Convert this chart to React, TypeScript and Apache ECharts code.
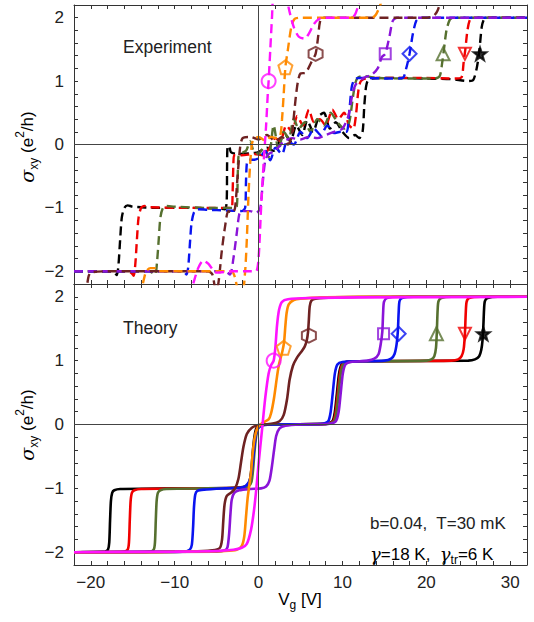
import React, { useEffect, useRef } from "react";
import * as echarts from "echarts";

// ---------- axes ----------
const X_MIN = -22;
const X_MAX = 32;
const Y_MIN = -2.2;
const Y_MAX = 2.2;
const xTickValues = [-22, -20, -18, -16, -14, -12, -10, -8, -6, -4, -2, 0, 2, 4, 6, 8, 10, 12, 14, 16, 18, 20, 22, 24, 26, 28, 30, 32];
const xLabelValues = [-20, -10, 0, 10, 20, 30];
const yTickValues = [-2.2, -2, -1.8, -1.6, -1.4, -1.2, -1, -0.8, -0.6, -0.4, -0.2, 0, 0.2, 0.4, 0.6, 0.8, 1, 1.2, 1.4, 1.6, 1.8, 2, 2.2];
const yLabelValues = [-2, -1, 0, 1, 2];

// ---------- series names / colours ----------
const names = ["black", "red", "green", "blue", "purple", "brown", "orange", "magenta"];
const colors = ["#000000", "#f00000", "#56702f", "#0a14f0", "#8a14d8", "#6e2222", "#ff8a00", "#ff12ff"];

// ---------- Experiment (top panel) ----------
const expBlack = [[-22, -2.0], [-18, -2.0], [-17.2, -2.02], [-16.9, -2.06], [-16.7, -1.9], [-16.5, -1.5], [-16.3, -1.15], [-16.0, -1.0], [-15.6, -0.96], [-15, -0.98], [-12, -1.0], [-8, -1.0], [-5, -1.01], [-4, -1.02], [-3.8, -0.9], [-3.75, -0.3], [-3.7, -0.05], [-3.5, -0.02], [-3.3, -0.12], [-2.5, -0.15], [-1, -0.14], [0, -0.12], [1, -0.05], [1.8, -0.1], [2.5, 0.05], [3.2, 0.15], [3.8, 0.05], [4.5, 0.3], [5.2, 0.15], [5.8, 0.38], [6.5, 0.2], [7.2, 0.45], [7.8, 0.5], [8.5, 0.25], [9.2, 0.35], [10, 0.2], [10.8, 0.1], [11.5, 0.15], [12, 0.1], [12.4, 0.2], [12.6, 0.6], [12.8, 0.9], [13.0, 1.0], [13.5, 1.04], [16, 1.05], [20, 1.04], [23, 1.03], [25, 1.0], [25.6, 1.02], [26.0, 1.2], [26.3, 1.45], [26.6, 1.85], [26.9, 1.98], [27.5, 2.0], [32, 2.0]];
const expRed = [[-22, -2.0], [-16, -2.0], [-15.2, -2.02], [-14.9, -2.07], [-14.7, -1.9], [-14.5, -1.5], [-14.3, -1.15], [-14.0, -1.0], [-13.6, -0.97], [-13, -0.99], [-8, -1.0], [-4, -1.0], [-3.2, -1.0], [-3.1, -0.8], [-3.0, -0.3], [-2.9, -0.17], [-2, -0.17], [-0.5, -0.15], [0.5, -0.17], [1.3, -0.05], [2, 0.1], [2.6, 0.05], [3.3, 0.3], [4.0, 0.2], [4.6, 0.45], [5.3, 0.3], [6, 0.55], [6.6, 0.35], [7.3, 0.4], [8, 0.3], [8.8, 0.55], [9.5, 0.4], [10.2, 0.5], [10.8, 0.3], [11.3, 0.25], [11.6, 0.45], [11.9, 0.85], [12.2, 1.0], [13, 1.05], [16, 1.05], [20, 1.05], [23.5, 1.04], [24.2, 1.06], [24.45, 1.3], [24.65, 1.5], [24.9, 1.8], [25.2, 1.97], [25.6, 2.0], [32, 2.0]];
const expGreen = [[-22, -2.0], [-13, -2.0], [-12.6, -2.03], [-12.3, -2.05], [-12.1, -1.85], [-11.9, -1.5], [-11.7, -1.15], [-11.4, -1.0], [-11, -0.97], [-10, -0.98], [-6, -1.0], [-3, -1.0], [-2.6, -0.98], [-2.5, -0.6], [-2.4, -0.2], [-2.2, -0.15], [-1.5, -0.1], [-1, 0.05], [-0.6, -0.1], [0, -0.15], [0.6, -0.05], [1.2, -0.2], [1.8, 0.3], [2.4, -0.1], [3, 0.2], [3.6, 0.1], [4.2, 0.4], [4.8, 0.25], [5.5, 0.35], [6.2, 0.2], [7, 0.4], [7.8, 0.3], [8.6, 0.5], [9.4, 0.35], [10.2, 0.25], [10.8, 0.35], [11.2, 0.7], [11.5, 0.95], [11.8, 1.05], [12.5, 1.08], [14, 1.05], [18, 1.04], [21, 1.04], [21.6, 1.08], [21.9, 1.3], [22.1, 1.5], [22.4, 1.8], [22.8, 1.97], [23.2, 2.0], [32, 2.0]];
const expBlue = [[-22, -2.0], [-9, -2.0], [-8.6, -2.05], [-8.4, -1.95], [-8.2, -1.6], [-8.0, -1.25], [-7.7, -1.07], [-7.3, -1.02], [-6, -1.03], [-4, -1.04], [-2, -1.05], [-1.6, -1.0], [-1.5, -0.6], [-1.4, -0.3], [-1.2, -0.24], [-0.5, -0.24], [0.2, -0.2], [0.8, -0.1], [1.4, -0.25], [2, -0.05], [2.8, -0.15], [3.4, 0.05], [4.2, 0.0], [5, 0.2], [5.8, 0.1], [6.6, 0.25], [7.4, 0.15], [8.2, 0.3], [9, 0.18], [9.8, 0.2], [10.5, 0.2], [10.8, 0.5], [11.1, 0.9], [11.4, 1.02], [12, 1.05], [16, 1.04], [17.2, 1.05], [17.6, 1.2], [18, 1.43], [18.4, 1.75], [18.8, 1.95], [19.3, 2.0], [32, 2.0]];
const expPurple = [[-22, -2.0], [-4, -2.0], [-3.4, -2.05], [-3.0, -1.8], [-2.6, -1.4], [-2.3, -1.1], [-2.0, -1.05], [-1, -1.05], [-0.3, -1.08], [0.2, -1.0], [0.5, -0.6], [0.8, -0.25], [1.2, -0.15], [2, -0.1], [3, 0.05], [4, 0.1], [5, 0.08], [6, 0.12], [7, 0.1], [8, 0.15], [9, 0.2], [10, 0.25], [10.7, 0.45], [11.2, 0.8], [11.6, 0.95], [12.5, 1.05], [13.5, 1.1], [14.2, 1.2], [14.7, 1.38], [15.1, 1.43], [15.6, 1.7], [16, 1.95], [16.5, 2.0], [32, 2.0]];
const expBrown = [[-20.6, -2.4], [-20.3, -2.1], [-20, -2.02], [-18, -2.0], [-10, -2.0], [-6, -2.0], [-5.5, -2.05], [-5.1, -2.3], [-4.8, -2.2], [-4.4, -1.7], [-4.0, -1.3], [-3.6, -1.05], [-3.1, -1.08], [-2.8, -1.0], [-2.5, -0.5], [-2.2, -0.05], [-1.9, 0.1], [-1, 0.12], [0, 0.08], [1, 0.15], [2, 0.05], [2.8, 0.12], [3.5, 0.0], [3.9, 0.1], [4.1, 0.3], [4.4, 0.7], [4.7, 1.0], [5.0, 1.12], [5.6, 1.13], [6.3, 1.3], [6.8, 1.43], [7.1, 1.7], [7.3, 1.92], [7.6, 2.0], [20, 2.0], [20.8, 2.02], [21.3, 2.1], [21.8, 2.3]];
const expOrange = [[-14.2, -2.4], [-13.8, -2.2], [-13.4, -2.0], [-12.9, -1.95], [-12.4, -1.95], [-12.0, -2.0], [-8, -2.0], [-4, -2.0], [-3.2, -2.0], [-2.8, -2.1], [-2.4, -2.3], [-1.9, -2.3], [-1.6, -2.0], [-1.4, -1.5], [-1.2, -0.8], [-1.0, -0.3], [-0.8, 0.0], [-0.6, 0.08], [0, 0.12], [0.8, 0.06], [1.5, 0.12], [2.2, 0.1], [2.6, 0.15], [2.8, 0.4], [3.0, 0.8], [3.2, 1.22], [3.5, 1.5], [3.9, 1.85], [4.3, 1.98], [5, 2.0], [13.5, 2.0], [14.0, 2.05], [14.5, 2.2], [15.0, 2.4]];
const expMagenta = [[-8.3, -2.4], [-7.8, -2.2], [-7.2, -1.95], [-6.6, -1.83], [-6.0, -1.88], [-5.4, -1.98], [-5, -2.02], [-3, -2.0], [-1, -2.0], [-0.3, -2.0], [0.0, -1.8], [0.3, -1.0], [0.6, -0.3], [0.9, 0.3], [1.1, 0.8], [1.2, 1.0], [1.4, 1.5], [1.6, 2.0], [1.8, 2.4], [2.5, 2.6], [3.3, 2.4], [3.6, 2.15], [4.2, 1.85], [4.8, 1.7], [5.5, 1.67], [6.0, 1.75], [6.6, 1.9], [7.2, 1.98], [8, 2.0], [11, 2.0], [11.5, 2.05], [11.9, 2.2], [12.3, 2.4]];

// ---------- Theory (bottom panel) ----------
const thBlack = [[-22, -2], [-18.3, -1.99], [-17.95, -1.96], [-17.8, -1.85], [-17.7, -1.5], [-17.6, -1.2], [-17.45, -1.07], [-17.2, -1.03], [-16.5, -1.01], [-10, -1.0], [-3, -0.99], [-1.6, -0.97], [-1.1, -0.9], [-0.85, -0.7], [-0.7, -0.45], [-0.5, -0.2], [-0.3, -0.07], [0, -0.02], [1, 0], [8, 0.01], [8.8, 0.05], [9.1, 0.2], [9.35, 0.5], [9.6, 0.8], [9.9, 0.94], [10.5, 0.98], [13, 0.99], [25, 1.0], [25.8, 1.02], [26.3, 1.07], [26.55, 1.17], [26.7, 1.32], [26.8, 1.55], [26.88, 1.8], [26.98, 1.93], [27.3, 1.98], [28.5, 2.0], [32, 2.0]];
const thRed = [[-22, -2], [-16, -1.99], [-15.6, -1.96], [-15.45, -1.85], [-15.35, -1.5], [-15.25, -1.2], [-15.1, -1.07], [-14.8, -1.03], [-14, -1.01], [-8, -1.0], [-2.5, -0.99], [-1.4, -0.97], [-0.95, -0.9], [-0.75, -0.7], [-0.6, -0.45], [-0.4, -0.2], [-0.2, -0.07], [0.1, -0.02], [1, 0], [8, 0.01], [8.9, 0.05], [9.2, 0.2], [9.45, 0.5], [9.7, 0.8], [10, 0.94], [10.6, 0.98], [13, 0.99], [23, 1.0], [23.8, 1.02], [24.2, 1.07], [24.45, 1.18], [24.6, 1.42], [24.7, 1.75], [24.8, 1.92], [25.1, 1.98], [26.5, 2.0], [32, 2.0]];
const thGreen = [[-22, -2], [-13, -1.99], [-12.5, -1.96], [-12.35, -1.85], [-12.25, -1.5], [-12.15, -1.2], [-12.0, -1.07], [-11.7, -1.03], [-11, -1.01], [-6, -1.0], [-2, -0.99], [-1.2, -0.97], [-0.85, -0.9], [-0.65, -0.7], [-0.5, -0.45], [-0.3, -0.2], [-0.1, -0.07], [0.2, -0.02], [1, 0], [8, 0.01], [9.0, 0.05], [9.3, 0.2], [9.55, 0.5], [9.8, 0.8], [10.1, 0.94], [10.7, 0.98], [13, 0.99], [20, 1.0], [20.6, 1.02], [20.95, 1.07], [21.15, 1.2], [21.25, 1.45], [21.35, 1.8], [21.45, 1.93], [21.8, 1.98], [23, 2.0], [32, 2.0]];
const thBlue = [[-22, -2], [-9, -1.99], [-8.2, -1.96], [-7.95, -1.88], [-7.8, -1.6], [-7.7, -1.3], [-7.55, -1.1], [-7.3, -1.04], [-6.5, -1.02], [-4, -1.0], [-2.2, -0.99], [-1.5, -0.96], [-1.0, -0.85], [-0.7, -0.6], [-0.5, -0.35], [-0.3, -0.15], [0, -0.05], [0.6, -0.01], [2, 0], [7.6, 0.01], [8.3, 0.05], [8.6, 0.2], [8.85, 0.5], [9.1, 0.8], [9.4, 0.94], [10, 0.98], [12, 0.99], [15, 1.0], [15.8, 1.03], [16.2, 1.1], [16.45, 1.25], [16.6, 1.45], [16.7, 1.75], [16.8, 1.93], [17.1, 1.98], [18.5, 2.0], [32, 2.0]];
const thPurple = [[-22, -2], [-5, -1.99], [-4, -1.97], [-3.7, -1.92], [-3.5, -1.7], [-3.35, -1.4], [-3.2, -1.18], [-2.9, -1.07], [-2.3, -1.03], [-1, -1.01], [0.3, -1.0], [0.9, -0.97], [1.3, -0.88], [1.6, -0.65], [1.85, -0.4], [2.1, -0.18], [2.5, -0.06], [3.2, -0.02], [5, 0], [8.3, 0.01], [9.2, 0.05], [9.55, 0.2], [9.8, 0.5], [10.05, 0.8], [10.35, 0.94], [11, 0.98], [13, 1.0], [13.8, 1.03], [14.3, 1.1], [14.55, 1.25], [14.75, 1.45], [14.85, 1.75], [14.95, 1.92], [15.3, 1.98], [17, 2.0], [32, 2.0]];
const thBrown = [[-22, -2], [-8, -1.99], [-5.5, -1.97], [-4.6, -1.93], [-4.35, -1.8], [-4.2, -1.5], [-4.05, -1.25], [-3.8, -1.12], [-3.3, -1.07], [-2.8, -1.0], [-2.4, -0.85], [-2.1, -0.6], [-1.8, -0.35], [-1.4, -0.15], [-0.8, -0.05], [0, -0.01], [1.5, 0.01], [2.5, 0.05], [3.0, 0.15], [3.4, 0.4], [3.7, 0.7], [4.1, 0.92], [4.6, 1.05], [5.1, 1.14], [5.5, 1.22], [5.75, 1.32], [5.9, 1.45], [6.0, 1.65], [6.1, 1.85], [6.3, 1.94], [6.8, 1.97], [9, 1.99], [14, 2.0], [32, 2.0]];
const thOrange = [[-22, -2], [-13, -2], [-8, -1.99], [-4, -1.98], [-2.6, -1.96], [-2.0, -1.9], [-1.7, -1.75], [-1.5, -1.45], [-1.3, -1.15], [-1.1, -0.95], [-0.9, -0.75], [-0.7, -0.45], [-0.45, -0.2], [-0.1, -0.05], [0.4, 0.02], [1.2, 0.08], [1.5, 0.18], [1.85, 0.42], [2.2, 0.75], [2.45, 0.95], [2.85, 1.15], [3.05, 1.3], [3.2, 1.55], [3.35, 1.75], [3.6, 1.88], [4.2, 1.95], [5, 1.97], [8, 1.99], [12, 2.0], [32, 2.0]];
const thMagenta = [[-22, -2], [-10, -1.99], [-5, -1.98], [-3, -1.96], [-2, -1.93], [-1.4, -1.87], [-0.9, -1.65], [-0.55, -1.35], [-0.3, -1.05], [0, -0.62], [0.4, -0.1], [0.8, 0.42], [1.2, 0.8], [1.5, 0.93], [1.8, 1.0], [2.0, 1.2], [2.2, 1.55], [2.45, 1.8], [2.8, 1.92], [3.5, 1.96], [6, 1.98], [12, 1.99], [32, 2.0]];

const expData = [expBlack, expRed, expGreen, expBlue, expPurple, expBrown, expOrange, expMagenta];
const thData = [thBlack, thRed, thGreen, thBlue, thPurple, thBrown, thOrange, thMagenta];

// ---------- markers (order: black, red, green, blue, purple, brown, orange, magenta) ----------
const markerSymbols = ["star", "downTriangle", "triangle", "diamond", "rect", "hexagon", "pentagon", "circle"];
const expMarkerX = [26.4, 24.6, 22.0, 18.0, 15.1, 6.8, 3.2, 1.2];
const expMarkerY = [1.43, 1.43, 1.43, 1.43, 1.43, 1.43, 1.22, 1.0];
const thMarkerX = [26.8, 24.6, 21.2, 16.7, 14.9, 6.0, 3.0, 1.8];
const thMarkerY = [1.42, 1.42, 1.42, 1.42, 1.42, 1.39, 1.2, 1.0];

const symbolPaths: Record<string, string> = {
  star: "path://M0,-10 L2.35,-3.24 L9.51,-3.09 L3.8,1.24 L5.88,8.09 L0,4 L-5.88,8.09 L-3.8,1.24 L-9.51,-3.09 L-2.35,-3.24 Z",
  downTriangle: "path://M-10,-8 L10,-8 L0,9 Z",
  triangle: "triangle",
  diamond: "diamond",
  rect: "rect",
  hexagon: "path://M0,-10 L8.66,-5 L8.66,5 L0,10 L-8.66,5 L-8.66,-5 Z",
  pentagon: "path://M0,-10 L9.51,-3.09 L5.88,8.09 L-5.88,8.09 L-9.51,-3.09 Z",
  circle: "circle",
};
const symbolSizes: Record<string, number> = {
  star: 13, downTriangle: 12, triangle: 13, diamond: 14, rect: 11, hexagon: 14, pentagon: 14, circle: 14,
};

const FONT = "'Liberation Sans', Arial, Helvetica, sans-serif";
const AXIS_COLOR = "#333";

function fmt(v: number) {
  return v < 0 ? "\u2212" + Math.abs(v) : String(v);
}

function makeXAxis(gridIndex: number, position: "top" | "bottom", labels: boolean) {
  return {
    type: "value",
    gridIndex,
    position,
    min: X_MIN,
    max: X_MAX,
    axisLine: { show: true, onZero: false, lineStyle: { color: AXIS_COLOR, width: 1 } },
    axisTick: { show: true, inside: true, length: 4, customValues: xTickValues, lineStyle: { color: AXIS_COLOR } },
    axisLabel: {
      show: labels,
      customValues: xLabelValues,
      formatter: fmt,
      fontFamily: FONT,
      fontSize: 17,
      color: "#222",
      margin: 9,
    },
    splitLine: { show: false },
  };
}

function makeYAxis(gridIndex: number, position: "left" | "right", labels: boolean) {
  return {
    type: "value",
    gridIndex,
    position,
    min: Y_MIN,
    max: Y_MAX,
    axisLine: { show: true, onZero: false, lineStyle: { color: AXIS_COLOR, width: 1 } },
    axisTick: { show: true, inside: true, length: 4, customValues: yTickValues, lineStyle: { color: AXIS_COLOR } },
    axisLabel: {
      show: labels,
      customValues: yLabelValues,
      formatter: fmt,
      fontFamily: FONT,
      fontSize: 17,
      color: "#222",
      margin: 10,
    },
    splitLine: { show: false },
  };
}

function buildOption() {
  const series: any[] = [];
  // zero lines
  [0, 1].forEach((g) => {
    series.push({
      type: "line",
      xAxisIndex: g * 2,
      yAxisIndex: g * 2,
      data: [],
      silent: true,
      markLine: {
        silent: true,
        symbol: "none",
        label: { show: false },
        lineStyle: { color: "#444", width: 1, type: "solid" },
        data: [{ xAxis: 0 }, { yAxis: 0 }],
      },
    });
  });
  names.forEach((n, i) => {
    series.push({
      name: "exp-" + n,
      type: "line",
      xAxisIndex: 0,
      yAxisIndex: 0,
      data: expData[i],
      showSymbol: false,
      symbol: "none",
      smooth: 0.25,
      lineStyle: { color: colors[i], width: 2.4, type: [9, 5] },
      z: 3,
    });
  });
  names.forEach((n, i) => {
    series.push({
      name: "th-" + n,
      type: "line",
      xAxisIndex: 2,
      yAxisIndex: 2,
      data: thData[i],
      showSymbol: false,
      symbol: "none",
      smooth: 0.25,
      lineStyle: { color: colors[i], width: 2.6 },
      z: 3,
    });
  });
  const mk = (xs: number[], ys: number[]) =>
    xs.map((x, i) => ({
      value: [x, ys[i]],
      symbol: symbolPaths[markerSymbols[i]],
      symbolSize: symbolSizes[markerSymbols[i]],
      itemStyle: {
        color: markerSymbols[i] === "star" ? colors[i] : "rgba(0,0,0,0)",
        borderColor: colors[i],
        borderWidth: 2,
      },
    }));
  series.push({ type: "scatter", xAxisIndex: 0, yAxisIndex: 0, data: mk(expMarkerX, expMarkerY), z: 5 });
  series.push({ type: "scatter", xAxisIndex: 2, yAxisIndex: 2, data: mk(thMarkerX, thMarkerY), z: 5 });

  const yName = "{s|\u03c3}{sub|xy}{n| (e}{sup|2}{n|/h)}";
  const yRich = {
    s: { fontFamily: "'DejaVu Serif', serif", fontStyle: "italic", fontSize: 19, lineHeight: 26, color: "#222" },
    sub: { fontFamily: FONT, fontSize: 12, lineHeight: 12, verticalAlign: "bottom", color: "#222" },
    sup: { fontFamily: FONT, fontSize: 12, lineHeight: 18, verticalAlign: "top", color: "#222" },
    n: { fontFamily: FONT, fontSize: 17, lineHeight: 26, color: "#222" },
  };

  return {
    animation: false,
    backgroundColor: "#ffffff",
    grid: [
      { left: 74, top: 5, width: 453, height: 279 },
      { left: 74, top: 284, width: 453, height: 281 },
    ],
    xAxis: [
      makeXAxis(0, "bottom", false),
      makeXAxis(0, "top", false),
      makeXAxis(1, "bottom", true),
      makeXAxis(1, "top", false),
    ],
    yAxis: [
      makeYAxis(0, "left", true),
      makeYAxis(0, "right", false),
      makeYAxis(1, "left", true),
      makeYAxis(1, "right", false),
    ],
    series,
    graphic: [
      {
        type: "text", x: 27, y: 147, rotation: Math.PI / 2,
        style: { text: yName, rich: yRich, align: "center", verticalAlign: "middle" },
      },
      {
        type: "text", x: 27, y: 425, rotation: Math.PI / 2,
        style: { text: yName, rich: yRich, align: "center", verticalAlign: "middle" },
      },
      {
        type: "text", x: 123, y: 47,
        style: { text: "Experiment", fontFamily: FONT, fontSize: 17.5, fill: "#222", align: "left", verticalAlign: "middle" },
      },
      {
        type: "text", x: 123, y: 328,
        style: { text: "Theory", fontFamily: FONT, fontSize: 17.5, fill: "#222", align: "left", verticalAlign: "middle" },
      },
      {
        type: "text", x: 370, y: 523,
        style: { text: "b=0.04,  T=30 mK", fontFamily: FONT, fontSize: 17, fill: "#222", align: "left", verticalAlign: "middle" },
      },
      {
        type: "text", x: 370, y: 554,
        style: {
          text: "{g|\u03b3}{n|=18 K,  }{g|\u03b3}{sub|tr}{n|=6 K}",
          align: "left", verticalAlign: "middle",
          rich: {
            g: { fontFamily: "'DejaVu Serif', serif", fontStyle: "italic", fontSize: 18, lineHeight: 24, color: "#222" },
            n: { fontFamily: FONT, fontSize: 17, lineHeight: 24, color: "#222" },
            sub: { fontFamily: FONT, fontSize: 12, lineHeight: 12, verticalAlign: "bottom", color: "#222" },
          },
        },
      },
      {
        type: "text", x: 300, y: 599,
        style: {
          text: "{n|V}{sub|g}{n| [V]}",
          align: "center", verticalAlign: "middle",
          rich: {
            n: { fontFamily: FONT, fontSize: 17, lineHeight: 24, color: "#222" },
            sub: { fontFamily: FONT, fontSize: 12, lineHeight: 12, verticalAlign: "bottom", color: "#222" },
          },
        },
      },
    ],
  };
}

export default function App() {
  const ref = useRef<HTMLDivElement>(null);
  useEffect(() => {
    if (!ref.current) return;
    const chart = echarts.init(ref.current, undefined, { renderer: "svg" });
    chart.setOption(buildOption() as any);
    return () => chart.dispose();
  }, []);
  return (
    <div
      ref={ref}
      style={{ position: "absolute", left: 0, top: 0, width: 534, height: 622, background: "#fff" }}
    />
  );
}
